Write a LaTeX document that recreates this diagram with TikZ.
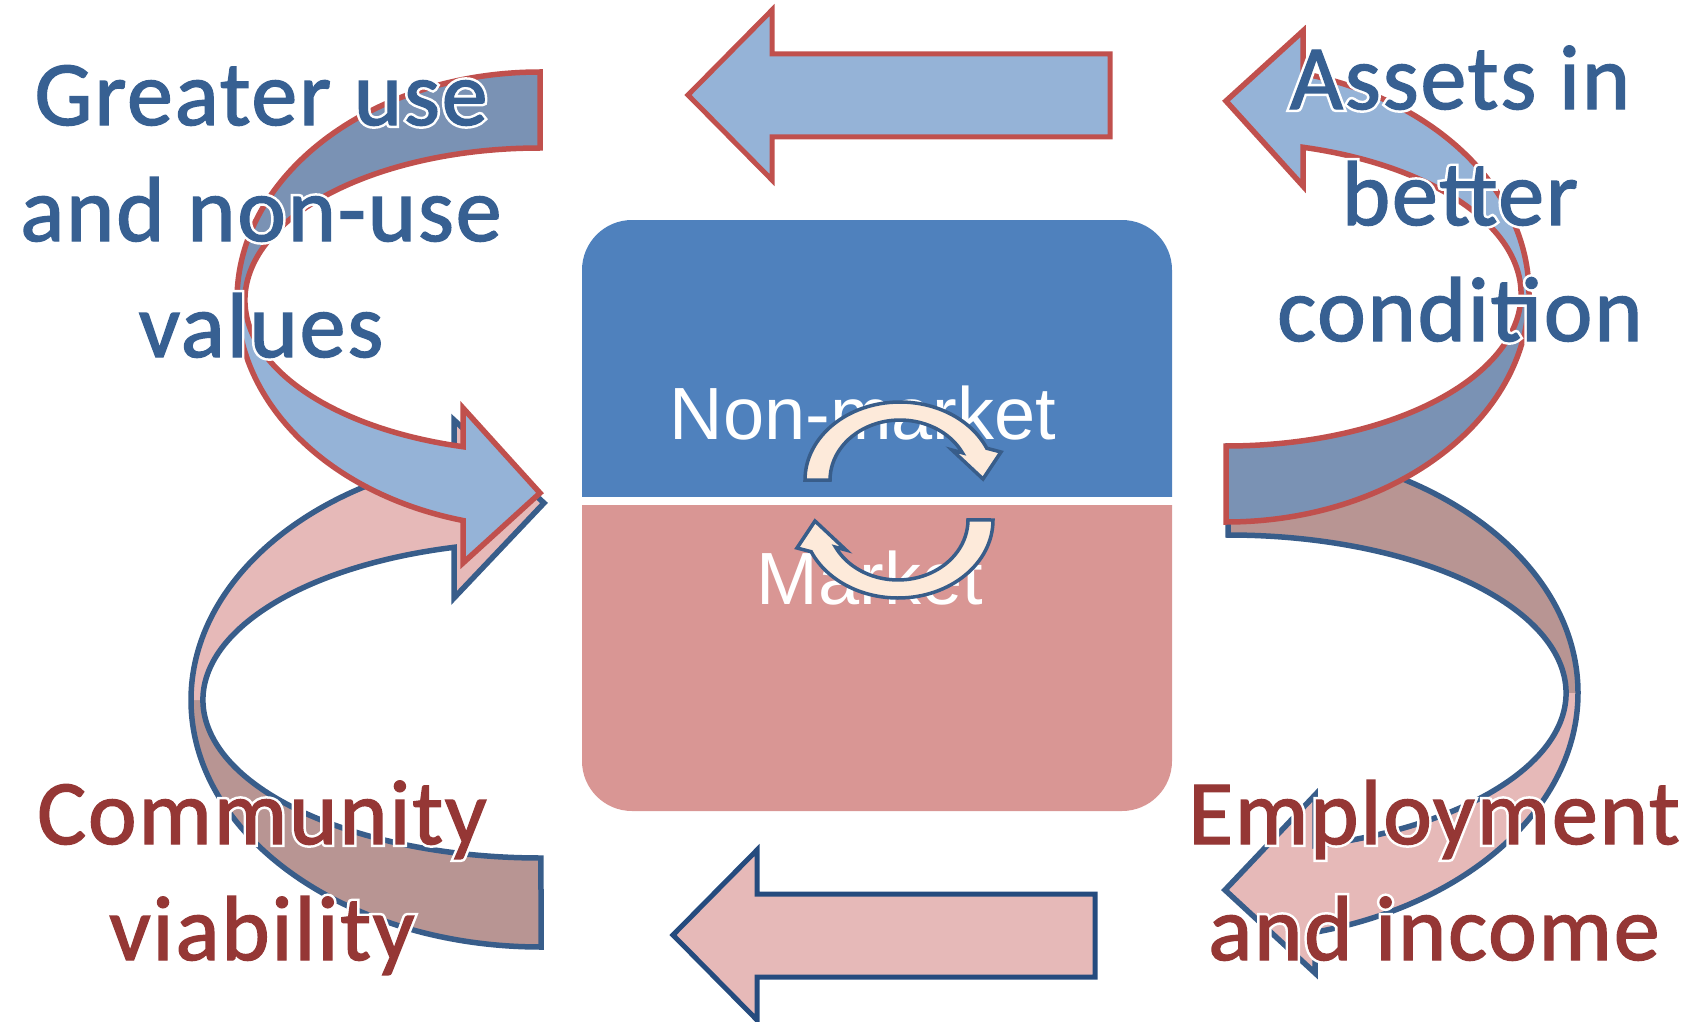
\documentclass[tikz,border=0pt]{standalone}
\usepackage{fontspec}
\setmainfont[LetterSpace=2.0, FakeBold=1.5]{Carlito}
\newfontfamily\haloface[LetterSpace=2.0, FakeBold=7]{Carlito}
\newfontfamily\arialfont{Liberation Sans}
\definecolor{boxblue}{HTML}{4F81BD}
\definecolor{boxpink}{HTML}{D99694}
\definecolor{ribbluelt}{HTML}{95B3D7}
\definecolor{ribbluedk}{HTML}{7A92B4}
\definecolor{ribpinklt}{HTML}{E6B9B8}
\definecolor{ribpinkdk}{HTML}{B89593}
\definecolor{linered}{HTML}{C0504D}
\definecolor{lineblue}{HTML}{385D8A}
\definecolor{linenavy}{HTML}{254B7E}
\definecolor{cream}{HTML}{FDEADA}
\definecolor{bluetext}{HTML}{376092}
\definecolor{redtext}{HTML}{953735}
\newcommand\whiteedge[1]{\makebox[0pt][l]{\haloface\color{white}#1}#1}
% curved ribbon arrow, tail at (0,top), head pointing right below
\newcommand\drawribbon[3]{%
	\pgfmathsetmacro\ao{360-acos(\hx/\ro)}%
	\pgfmathsetmacro\ai{360-acos(\hx/\ri)}%
	\pgfmathsetmacro\vi{\hi*sin(\ai)}%
	\fill[#1] (0,\ho) arc[start angle=90, end angle=180, x radius=\ro, y radius=\ho]
		-- (-\ri,0) arc[start angle=180, end angle=90, x radius=\ri, y radius=\hi] -- cycle;
	\fill[#2] (-\ro,0) arc[start angle=180, end angle=\ao, x radius=\ro, y radius=\ho]
		-- (\hx,\bb) -- (\tu,\tv) -- (\hx,\ba) -- (\hx,\vi)
		arc[start angle=\ai, end angle=180, x radius=\ri, y radius=\hi] -- cycle;
	\draw[#3, line width=5.5pt, line join=miter] (0,\ho) arc[start angle=90, end angle=\ao, x radius=\ro, y radius=\ho]
		-- (\hx,\bb) -- (\tu,\tv) -- (\hx,\ba) -- (\hx,\vi)
		arc[start angle=\ai, end angle=90, x radius=\ri, y radius=\hi] -- cycle;
}
\begin{document}
\begin{tikzpicture}[x=1pt,y=1pt,
		sidetext/.style={font=\fontsize{92}{116}\selectfont, align=center, inner sep=0pt, anchor=base},
		boxtext/.style={font=\arialfont\fontsize{74}{80}\selectfont, white, inner sep=0pt, anchor=base},
		toparrow/.style={fill=ribbluelt, draw=linered, line width=5pt, line join=miter},
		botarrow/.style={fill=ribpinklt, draw=linenavy, line width=5pt, line join=miter},
		cyclearrow/.style={fill=cream, draw=lineblue, line width=3.5pt, line join=miter}]
	\useasboundingbox (0,0) rectangle (1698,-1022);
	% centre box
	\begin{scope}
		\clip (582,-220) rectangle (1172,-496);
		\fill[boxblue, rounded corners=50] (582,-220) rectangle (1172,-811);
	\end{scope}
	\begin{scope}
		\clip (582,-505) rectangle (1172,-811);
		\fill[boxpink, rounded corners=50] (582,-220) rectangle (1172,-811);
	\end{scope}
	\node[boxtext] (nonmarket) at (863,-439) {Non-market};
	\node[boxtext] (market) at (870,-604) {Market};
	\foreach \r in {0,180}
		\draw[cyclearrow, rotate around={\r:(899,-500)}] (805,-480) arc[start angle=180, end angle=24, x radius=95, y radius=78]
			-- (1001,-452) -- (983,-479) -- (952,-450) -- (962.4,-452.8)
			arc[start angle=27, end angle=180, x radius=70, y radius=60] -- cycle;
	% straight arrows
	\foreach \dx/\dy/\st in {0/0/toparrow, -15/-840/botarrow}
		\draw[\st, shift={(\dx,\dy)}] (688,-95) -- (772,-10) -- (772,-54) -- (1110,-54)
			-- (1110,-137) -- (772,-137) -- (772,-180) -- cycle;
	% lower ribbons
	\pgfmathsetmacro\ro{350} \pgfmathsetmacro\ho{247}
	\pgfmathsetmacro\ri{338} \pgfmathsetmacro\hi{158}
	\pgfmathsetmacro\hx{-87} \pgfmathsetmacro\ba{-102} \pgfmathsetmacro\bb{-280}
	\pgfmathsetmacro\tu{3} \pgfmathsetmacro\tv{-197}
	\foreach \cx/\cy/\sx/\sy in {541/-700/1/-1, 1228/-693/-1/1} {
		\begin{scope}[shift={(\cx,\cy)}, xscale=\sx, yscale=\sy]
			\drawribbon{ribpinkdk}{ribpinklt}{lineblue}
		\end{scope}
	}
	% upper ribbons
	\pgfmathsetmacro\ro{303} \pgfmathsetmacro\ho{228}
	\pgfmathsetmacro\ri{295} \pgfmathsetmacro\hi{152}
	\pgfmathsetmacro\hx{-77} \pgfmathsetmacro\ba{-108} \pgfmathsetmacro\bb{-263}
	\pgfmathsetmacro\tu{0} \pgfmathsetmacro\tv{-193}
	\foreach \cx/\cy/\sx/\sy in {540/-300/1/1, 1226/-294/-1/-1} {
		\begin{scope}[shift={(\cx,\cy)}, xscale=\sx, yscale=\sy]
			\drawribbon{ribbluedk}{ribbluelt}{linered}
		\end{scope}
	}
	% labels
	\node[sidetext, bluetext] (greater) at (261,-357) {\whiteedge{Greater use}\\\whiteedge{and non-use}\\\whiteedge{values}};
	\node[sidetext, bluetext] (assets) at (1460,-341) {\whiteedge{Assets in}\\\whiteedge{better}\\\whiteedge{condition}};
	\node[sidetext, redtext] (community) at (262,-960) {\whiteedge{Community}\\\whiteedge{viability}};
	\node[sidetext, redtext] (employment) at (1434,-960) {\whiteedge{Employment}\\\whiteedge{and income}};
\end{tikzpicture}
\end{document}
